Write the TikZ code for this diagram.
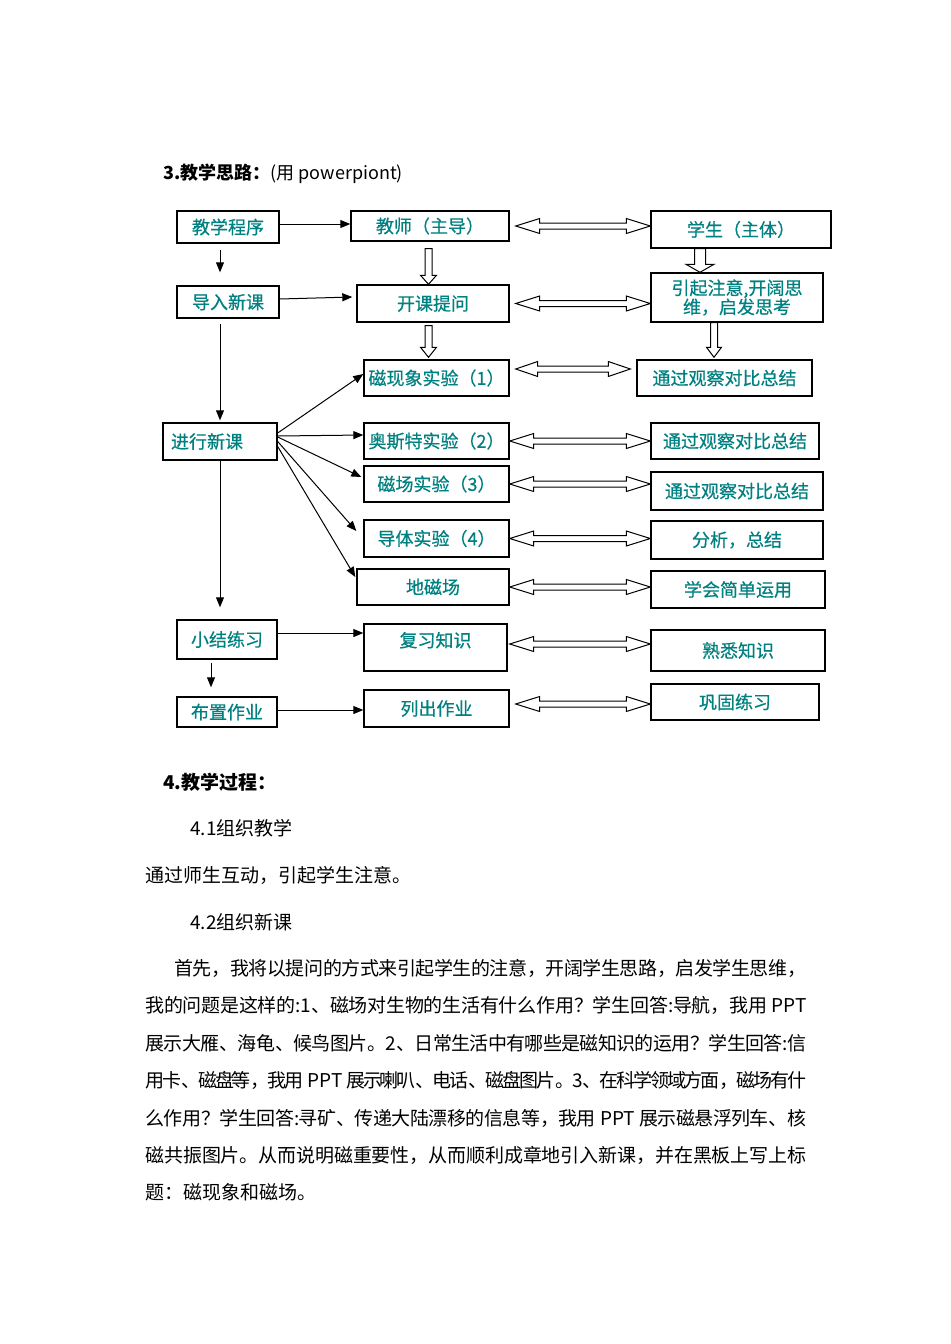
\documentclass[tikz,border=0pt]{standalone}
\usepackage{fontspec}
\setmainfont{Noto Sans CJK SC}
\newfontfamily\boxfont[FakeBold=0.6]{Noto Sans CJK SC}
\usetikzlibrary{calc,arrows.meta}
\definecolor{tealtext}{RGB}{0,128,128}
\XeTeXlinebreaklocale "zh"
\XeTeXlinebreakskip=0pt plus 3pt minus 3pt

\begin{document}
\begin{tikzpicture}[x=0.5pt,y=-0.5pt,line join=miter,font=\fontsize{9pt}{11pt}\selectfont,
 box/.style={draw,line width=0.7pt,inner sep=0pt,text=tealtext,font=\boxfont\fontsize{9pt}{11pt}\selectfont},
 arr/.style={line width=0.5pt,-{Triangle[length=5pt,width=4pt]}},
 hollow/.style={draw,line width=0.5pt,fill=white},
 dblarrow/.style n args={3}{hollow,to path={
  -- ($(\tikztostart)!#1!(\tikztotarget)!#2!90:(\tikztotarget)$)
  -- ($(\tikztostart)!#1!(\tikztotarget)!#3!90:(\tikztotarget)$)
  -- ($(\tikztotarget)!#1!(\tikztostart)!#3!-90:(\tikztostart)$)
  -- ($(\tikztotarget)!#1!(\tikztostart)!#2!-90:(\tikztostart)$)
  -- (\tikztotarget)
  -- ($(\tikztotarget)!#1!(\tikztostart)!#2!90:(\tikztostart)$)
  -- ($(\tikztotarget)!#1!(\tikztostart)!#3!90:(\tikztostart)$)
  -- ($(\tikztostart)!#1!(\tikztotarget)!#3!-90:(\tikztotarget)$)
  -- ($(\tikztostart)!#1!(\tikztotarget)!#2!-90:(\tikztotarget)$)
  -- cycle}},
 onearrow/.style n args={3}{hollow,to path={
  -- ($(\tikztostart)!#3!90:(\tikztotarget)$)
  -- ($(\tikztotarget)!#1!(\tikztostart)!#3!-90:(\tikztostart)$)
  -- ($(\tikztotarget)!#1!(\tikztostart)!#2!-90:(\tikztostart)$)
  -- (\tikztotarget)
  -- ($(\tikztotarget)!#1!(\tikztostart)!#2!90:(\tikztostart)$)
  -- ($(\tikztotarget)!#1!(\tikztostart)!#3!90:(\tikztostart)$)
  -- ($(\tikztostart)!#3!-90:(\tikztotarget)$)
  -- cycle}},
 body/.style={anchor=west,inner sep=0pt,font=\fontsize{9.5pt}{11pt}\selectfont},
 parline/.style={body,text width=#1,align=justify}]
 \useasboundingbox (0,0) rectangle (950,1344);

 % heading
 \node[anchor=west,inner sep=0pt] (title) at (163,174) {\textbf{3.教学思路：}(用 powerpiont)};

 % left column
 \node[box,minimum width=51pt,minimum height=16pt] (prog) at (228,227) {教学程序};
 \node[box,minimum width=51pt,minimum height=16pt] (intro) at (228,302) {导入新课};
 \node[box,text width=49pt,align=left,minimum width=57pt,minimum height=18.5pt] (new) at (220,441.5) {进行新课};
 \node[box,minimum width=50pt,minimum height=19.5pt] (rev) at (227,639.5) {小结练习};
 \node[box,minimum width=50pt,minimum height=15pt] (hw) at (227,712) {布置作业};

 % teacher column
 \node[box,minimum width=79pt,minimum height=15pt] (teach) at (430,226) {教师（主导）};
 \node[box,minimum width=76pt,minimum height=18.5pt] (ask) at (433,303.5) {开课提问};
 \node[box,minimum width=72.5pt,minimum height=18pt] (expA) at (436.5,378) {磁现象实验（1）};
 \node[box,minimum width=72.5pt,minimum height=18pt] (expB) at (436.5,441) {奥斯特实验（2）};
 \node[box,minimum width=72.5pt,minimum height=18pt] (expC) at (436.5,484) {磁场实验（3）};
 \node[box,minimum width=72.5pt,minimum height=18.5pt] (expD) at (436.5,538.5) {导体实验（4）};
 \node[box,minimum width=76pt,minimum height=18pt] (geo) at (433,587) {地磁场};
 \node[box,text depth=8pt,minimum width=71.5pt,minimum height=23.5pt] (revk) at (435.5,647.5) {复习知识};
 \node[box,minimum width=72.5pt,minimum height=18.5pt] (list) at (436.5,708.5) {列出作业};

 % student column
 \node[box,minimum width=90pt,minimum height=18.5pt] (stud) at (741,229.5) {学生（主体）};
 \node[box,align=center,font=\boxfont\fontsize{9pt}{9.5pt}\selectfont,minimum width=86pt,minimum height=24.5pt] (attn) at (737,297.5) {引起注意,开阔思\\维，启发思考};
 \node[box,minimum width=87.5pt,minimum height=18pt] (sumA) at (724.5,378) {通过观察对比总结};
 \node[box,minimum width=84pt,minimum height=18pt] (sumB) at (735,441) {通过观察对比总结};
 \node[box,minimum width=86pt,minimum height=19pt] (sumC) at (737,491) {通过观察对比总结};
 \node[box,minimum width=86pt,minimum height=19pt] (anaD) at (737,540) {分析，总结};
 \node[box,minimum width=87pt,minimum height=18.5pt] (use) at (738,589.5) {学会简单运用};
 \node[box,minimum width=87pt,minimum height=20.5pt] (fam) at (738,650.5) {熟悉知识};
 \node[box,minimum width=84pt,minimum height=18pt] (cons) at (735,702) {巩固练习};

 % plain arrows
 \draw[arr] ([yshift=1.5pt]prog.east) -- ([yshift=1pt]teach.west);
 \draw[arr] ([xshift=-4pt,yshift=-3pt]prog.south) -- ([xshift=-4pt,yshift=6.5pt]intro.north);
 \draw[arr] ([yshift=1.5pt]intro.east) -- ([xshift=-2pt,yshift=3.25pt]ask.west);
 \draw[arr] ([xshift=-4pt,yshift=-2.5pt]intro.south) -- ([yshift=1pt]new.north);
 \draw[arr] (new.south) -- ([xshift=-3.5pt,yshift=6pt]rev.north);
 \draw[arr] ([xshift=-8pt,yshift=-1.5pt]rev.south) -- ([xshift=-8pt,yshift=4.5pt]hw.north);
 \draw[arr] ([yshift=3.25pt]rev.east) -- ([yshift=7.25pt]revk.west);
 \draw[arr] ([yshift=1pt]hw.east) -- ([yshift=-0.75pt]list.west);
 \draw[arr] ([yshift=4.25pt]new.east) -- ([yshift=2pt]expA.west);
 \draw[arr] ([yshift=2.75pt]new.east) -- ([yshift=3pt]expB.west);
 \draw[arr] ([yshift=2.25pt]new.east) -- ([xshift=-1pt,yshift=3.5pt]expC.west);
 \draw[arr] (new.east) -- ([xshift=-3.5pt,yshift=3.75pt]expD.west);
 \draw[arr] ([yshift=-2.5pt]new.east) -- ([xshift=-0.5pt,yshift=5pt]geo.west);

 % hollow arrows down
 \draw[onearrow={4.5pt}{4pt}{1.75pt}] ([xshift=-0.75pt,yshift=-3.5pt]teach.south) to ([xshift=-2.25pt]ask.north);
 \draw[onearrow={5pt}{4pt}{1.75pt}] ([xshift=-2.25pt,yshift=-1.5pt]ask.south) to ([xshift=-4pt,yshift=1pt]expA.north);
 \draw[onearrow={4pt}{7pt}{2.75pt}] ([xshift=-20.5pt]stud.south) to ([xshift=-18.5pt]attn.north);
 \draw[onearrow={5pt}{3.75pt}{1.75pt}] ([xshift=-11.5pt]attn.south) to ([xshift=-5.25pt,yshift=1pt]sumA.north);

 % hollow arrows both ways
 \draw[dblarrow={12pt}{3.75pt}{1.5pt}] ([xshift=3pt]teach.east) to (teach.east -| stud.west);
 \draw[dblarrow={12pt}{3.75pt}{1.5pt}] ([xshift=3pt]ask.east) to (ask.east -| attn.west);
 \draw[dblarrow={11pt}{3.75pt}{1.5pt}] ([xshift=3pt,yshift=4.5pt]expA.east) to ([xshift=-3pt,yshift=4.5pt]sumA.west);
 \draw[dblarrow={12pt}{3.75pt}{1.5pt}] (expB.east) to (expB.east -| sumB.west);
 \draw[dblarrow={12pt}{3.75pt}{1.5pt}] (expC.east) to (expC.east -| sumC.west);
 \draw[dblarrow={12pt}{3.75pt}{1.5pt}] (expD.east) to (expD.east -| anaD.west);
 \draw[dblarrow={12pt}{3.75pt}{1.5pt}] (geo.east) to (geo.east -| use.west);
 \draw[dblarrow={12pt}{3.75pt}{1.5pt}] ([xshift=1pt,yshift=1.75pt]revk.east) to ([yshift=3.25pt]fam.west);
 \draw[dblarrow={12pt}{3.75pt}{1.5pt}] ([xshift=3pt,yshift=2.25pt]list.east) to ([yshift=-1pt]cons.west);

 % text below
 \node[body] (h4) at (163,782) {\textbf{4.教学过程：}};
 \node[body] (s41) at (190,828) {4.1组织教学};
 \node[body] (p0) at (145,875) {通过师生互动，引起学生注意。};
 \node[body] (s42) at (190,922) {4.2组织新课};
 \node[parline=316pt] (p1) at (174,968) {\parfillskip=0pt 首先，我将以提问的方式来引起学生的注意，开阔学生思路，启发学生思维，};
 \node[parline=330.5pt] (p2) at (145,1005) {\parfillskip=0pt 我的问题是这样的:1、磁场对生物的生活有什么作用？学生回答:导航，我用 PPT};
 \node[parline=330.5pt] (p3) at (145,1043) {\parfillskip=0pt 展示大雁、海龟、候鸟图片。2、日常生活中有哪些是磁知识的运用？学生回答:信};
 \node[parline=330.5pt] (p4) at (145,1080) {\parfillskip=0pt 用卡、磁盘等，我用 PPT 展示喇叭、电话、磁盘图片。3、在科学领域方面，磁场有什};
 \node[parline=330.5pt] (p5) at (145,1118) {\parfillskip=0pt 么作用？学生回答:寻矿、传递大陆漂移的信息等，我用 PPT 展示磁悬浮列车、核};
 \node[parline=330.5pt] (p6) at (145,1155) {\parfillskip=0pt 磁共振图片。从而说明磁重要性，从而顺利成章地引入新课，并在黑板上写上标};
 \node[body] (p7) at (145,1192) {题：磁现象和磁场。};
\end{tikzpicture}
\end{document}
